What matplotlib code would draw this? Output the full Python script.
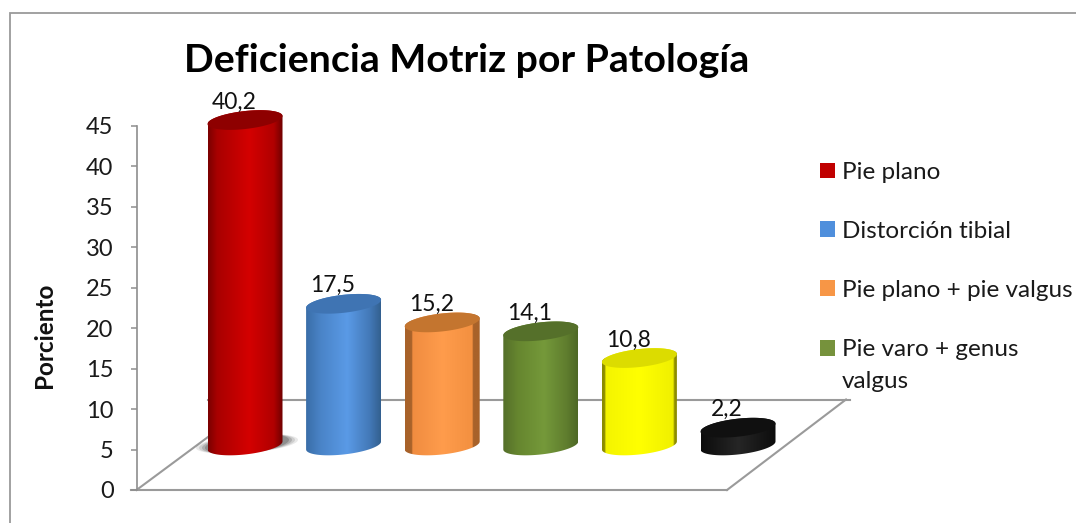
import numpy as np
import matplotlib
matplotlib.use("Agg")
import matplotlib.pyplot as plt
from matplotlib.colors import LinearSegmentedColormap
from matplotlib.patches import Patch, PathPatch, Polygon, Rectangle
from matplotlib.path import Path

plt.rcParams['font.family'] = ['Lato', 'DejaVu Sans']

TITLE = "Deficiencia Motriz por Patología"
YLABEL = "Porciento"
categories = ["Pie plano", "Distorción tibial", "Pie plano + pie valgus",
              "Pie varo + genus\nvalgus", "Otros 1", "Otros 2"]
values = [40.2, 17.5, 15.2, 14.1, 10.8, 2.2]
value_labels = ["40,2", "17,5", "15,2", "14,1", "10,8", "2,2"]
yticks = [0, 5, 10, 15, 20, 25, 30, 35, 40, 45]

legend_colors = ["#c00000", "#4f8fdc", "#f79646", "#76923c"]
# horizontal shading stops of each cylinder
shades = [
    [(0, "#7a0000"), (0.12, "#a80000"), (0.55, "#d40000"), (0.88, "#b00000"), (1, "#6e0000")],
    [(0, "#3a6ea8"), (0.2, "#4a84c8"), (0.55, "#5a9ae6"), (0.85, "#4379b8"), (1, "#33608f")],
    [(0, "#a8622a"), (0.09, "#a8622a"), (0.1, "#f08c40"), (0.5, "#ff9c4c"), (0.9, "#f39040"), (0.91, "#a8622a"), (1, "#a8622a")],
    [(0, "#556f2a"), (0.2, "#66862f"), (0.55, "#75993a"), (0.85, "#5f7d2e"), (1, "#4e6826")],
    [(0, "#8c8c00"), (0.035, "#8c8c00"), (0.05, "#f4f400"), (0.5, "#ffff00"), (0.95, "#f0f000"), (0.97, "#8c8c00"), (1, "#8c8c00")],
    [(0, "#0c0c0c"), (0.5, "#262626"), (1, "#0c0c0c")],
]
cap_colors = ["#8e0000", "#3f74b3", "#c4752f", "#55702a", "#dcdc00", "#101010"]

W, H = 1076, 523
fig = plt.figure(figsize=(W / 100, H / 100), dpi=100, facecolor="white")

# chart frame drawn in figure pixels
fig.add_artist(Rectangle((9.5 / W, -0.05), 1.2, 1.05 - 13 / H, transform=fig.transFigure,
                         fill=False, ec="#9a9a9a", lw=1.3))

L, R, T, B = 136.5, 850, 125.7, 490
PX_STEP, X0 = 98.6, 245
PX_Y = 45 / (B - T)
PX_X = 1 / PX_STEP
YMAX = 55
ax = fig.add_axes([L / W, 1 - B / H, (R - L) / W, YMAX / PX_Y / H])
ax.patch.set_alpha(0)
ax.set_xlim((L - X0) / PX_STEP, (R - X0) / PX_STEP)
ax.set_ylim(0, YMAX)

for s in ("top", "right", "bottom"):
    ax.spines[s].set_visible(False)
ax.spines["left"].set_color("#8e8e8e")
ax.spines["left"].set_linewidth(1.2)
ax.spines["left"].set_bounds(0, 45)
ax.set_xticks([])
ax.set_yticks(yticks)
ax.tick_params(axis="y", length=4.5, width=1.1, color="#8e8e8e", labelsize=17,
               labelcolor="#1a1a1a", pad=12)
fig.text(45 / W, 1 - 335 / H, YLABEL, rotation=90, ha="center", va="center",
         fontsize=17.5, fontweight="bold", color="#111111")
fig.text(467 / W, 1 - 60 / H, TITLE, ha="center", va="center", fontsize=28.3,
         fontweight="bold", color="black")

# floor of the 3-D plot
xl, xf, xb = ax.get_xlim()[0], (727 - X0) / PX_STEP, ax.get_xlim()[1]
xbl = (208 - X0) / PX_STEP
y_back = (B - 399.5) * PX_Y
floor = dict(color="#9a9a9a", lw=1.5, clip_on=False, zorder=1)
ax.plot([xl - 6 * PX_X, xf], [0, 0], **floor)
ax.plot([xl, xbl], [0, (B - 437) * PX_Y], **floor)
ax.plot([xf, xb - 4 * PX_X], [0, y_back], **floor)
ax.plot([xbl, xb], [y_back, y_back], **floor)

BASE = 5.5       # height of the floor under the bars
A, BB, S = 37.5, 9.0, 4.0   # ellipse radii and tilt, in px
t = np.linspace(0, 2 * np.pi, 121)

def ring(cx, cy, tt):
    return (cx + A * np.cos(tt) * PX_X,
            cy + (BB * np.sin(tt) + S * np.cos(tt)) * PX_Y)

# soft shadow under the first bar
for grow, alpha in [(1.36, 0.10), (1.28, 0.14), (1.2, 0.2), (1.12, 0.25)]:
    ex, ey = ring(0, BASE + 0.2, t)
    ax.add_patch(Polygon(np.c_[ex * grow + 2 * PX_X, ey],
                         fc="#303030", ec="none", alpha=alpha, zorder=2))

for i, v in enumerate(values):
    top = BASE + v
    # outline: lower half of the base ellipse, then upper half of the cap
    bx, by = ring(i, BASE, np.linspace(np.pi, 2 * np.pi, 60))
    tx, ty = ring(i, top, np.linspace(0, np.pi, 60))
    pts = np.r_[np.c_[bx, by], np.c_[tx, ty]]
    body = PathPatch(Path(np.r_[pts, pts[:1]], closed=True), fc="none", ec="none",
                     transform=ax.transData, zorder=3)
    ax.add_patch(body)
    cmap = LinearSegmentedColormap.from_list(f"c{i}", shades[i])
    grad = np.linspace(0, 1, 256)[None, :]
    im = ax.imshow(grad, cmap=cmap, aspect="auto", zorder=3, interpolation="bilinear",
                   extent=[i - A * PX_X, i + A * PX_X, BASE - 3, top + 3])
    im.set_clip_path(body)
    cx, cy = ring(i, top, t)
    ax.add_patch(Polygon(np.c_[cx, cy], fc=cap_colors[i], ec="none", zorder=4))
    ax.annotate(value_labels[i], (i, top), xytext=(-11, 18), textcoords="offset pixels",
                ha="center", va="center", fontsize=16.5, color="#111111", zorder=5,
                annotation_clip=False)

ax.set_xlim((L - X0) / PX_STEP, (R - X0) / PX_STEP)
ax.set_ylim(0, YMAX)

handles = [Patch(fc=c, ec="none") for c in legend_colors]
leg = fig.legend(handles, categories[:4], loc="upper left",
                 bbox_to_anchor=(820 / W, 1 - 162 / H), frameon=False, fontsize=17.5,
                 handlelength=0.62, handleheight=0.62, handletextpad=0.28,
                 labelspacing=1.56, borderpad=0, borderaxespad=0, labelcolor="#1a1a1a")
for txt in leg.get_texts():
    txt.set_linespacing(1.64)
# keep the square of the two-line entry beside its first line
last = leg.legend_handles[3]
last.set_y(last.get_y() + 12.2)

fig.savefig("out.png", dpi=100)
